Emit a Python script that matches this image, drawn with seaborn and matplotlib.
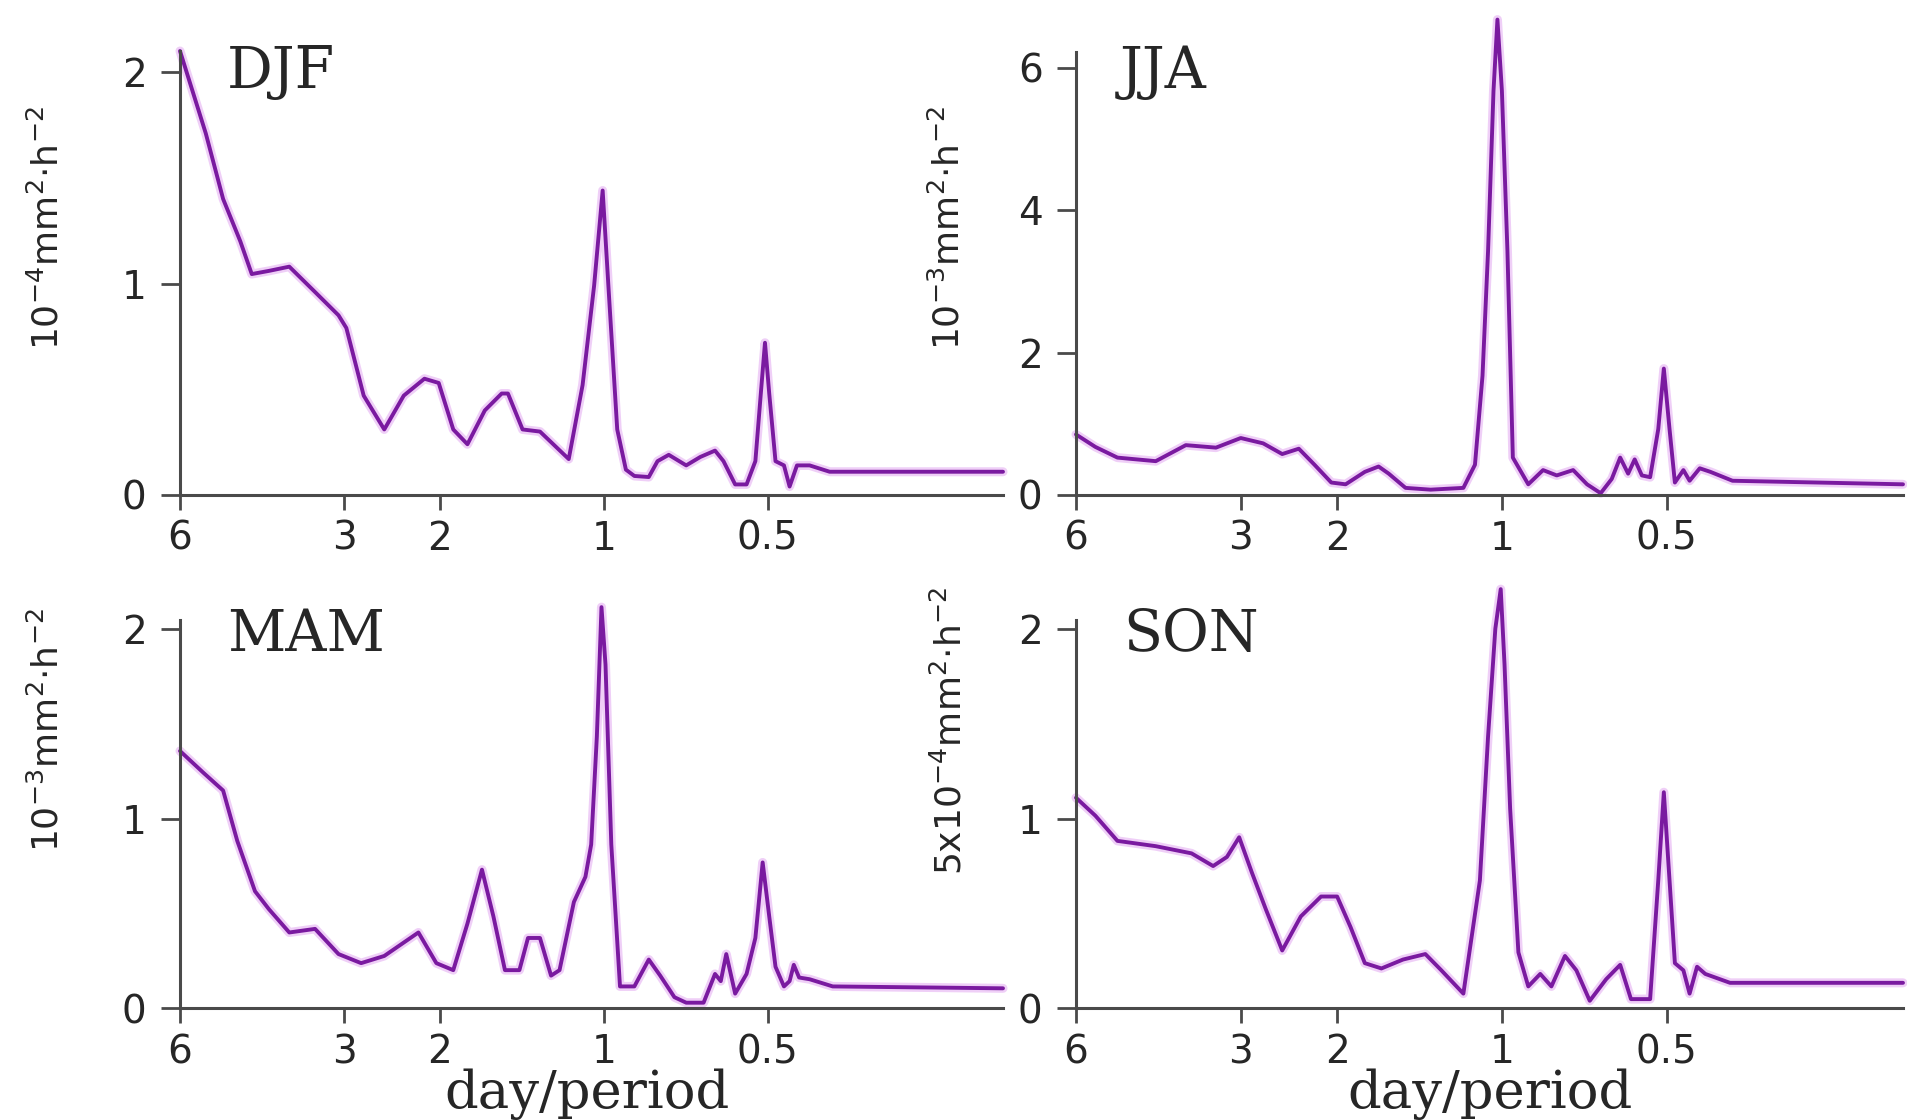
import matplotlib
matplotlib.use("Agg")
import matplotlib.pyplot as plt
import seaborn as sns
import pandas as pd
from matplotlib.ticker import FixedLocator, FixedFormatter, NullLocator

# ---------------- data (period in days, spectral power) ----------------
djf_period = [6.0, 5.38, 5.0, 4.65, 4.43, 4.12, 3.78, 3.39, 3.07, 2.97, 2.76, 2.53, 2.33,
              2.135, 2.01, 1.89, 1.78, 1.654, 1.54, 1.50, 1.41, 1.31, 1.25, 1.16, 1.094,
              1.042, 1.005, 0.981, 0.945, 0.911, 0.879, 0.827, 0.797, 0.760, 0.706, 0.665,
              0.625, 0.603, 0.574, 0.547, 0.527, 0.515, 0.506, 0.497, 0.484, 0.467, 0.456,
              0.442, 0.419, 0.385, 0.185]
djf_power = [2.10, 1.71, 1.40, 1.20, 1.045, 1.06, 1.08, 0.96, 0.85, 0.79, 0.47, 0.31, 0.47,
             0.55, 0.53, 0.31, 0.24, 0.40, 0.48, 0.48, 0.31, 0.30, 0.25, 0.17, 0.52,
             0.99, 1.44, 0.99, 0.31, 0.12, 0.09, 0.085, 0.16, 0.19, 0.14, 0.18,
             0.21, 0.16, 0.05, 0.05, 0.16, 0.48, 0.72, 0.48, 0.16, 0.14, 0.04,
             0.14, 0.14, 0.11, 0.11]

jja_period = [6.0, 5.53, 5.04, 4.29, 3.78, 3.33, 3.0, 2.73, 2.52, 2.35, 2.20, 2.05, 1.93,
              1.78, 1.68, 1.61, 1.50, 1.35, 1.176, 1.12, 1.085, 1.06, 1.036, 1.019, 1.0,
              0.977, 0.955, 0.895, 0.841, 0.794, 0.741, 0.699, 0.66, 0.63, 0.608, 0.588,
              0.572, 0.555, 0.536, 0.518, 0.506, 0.494, 0.483, 0.466, 0.454, 0.435, 0.416,
              0.379, 0.185]
jja_power = [0.85, 0.675, 0.525, 0.475, 0.70, 0.665, 0.80, 0.725, 0.575, 0.65, 0.425, 0.175, 0.15,
             0.325, 0.40, 0.30, 0.10, 0.075, 0.10, 0.425, 1.675, 3.425, 5.675, 6.675, 5.675,
             3.425, 0.525, 0.15, 0.35, 0.275, 0.35, 0.15, 0.025, 0.225, 0.525, 0.30,
             0.50, 0.275, 0.25, 0.925, 1.775, 0.925, 0.175, 0.35, 0.20, 0.375, 0.325,
             0.20, 0.15]

mam_period = [6.0, 5.44, 5.0, 4.71, 4.37, 4.12, 3.78, 3.39, 3.07, 2.79, 2.53, 2.19, 2.03,
              1.89, 1.78, 1.674, 1.595, 1.519, 1.429, 1.378, 1.31, 1.25, 1.206, 1.135, 1.081,
              1.055, 1.03, 1.01, 0.993, 0.969, 0.934, 0.879, 0.827, 0.788, 0.742, 0.706,
              0.656, 0.625, 0.610, 0.596, 0.574, 0.547, 0.527, 0.511, 0.497, 0.484, 0.467,
              0.456, 0.448, 0.438, 0.419, 0.380, 0.185]
mam_power = [1.358, 1.244, 1.149, 0.883, 0.617, 0.522, 0.399, 0.418, 0.285, 0.237, 0.275, 0.399, 0.237,
             0.20, 0.446, 0.731, 0.484, 0.20, 0.20, 0.37, 0.37, 0.171, 0.20, 0.56, 0.693,
             0.864, 1.434, 2.118, 1.814, 0.864, 0.114, 0.114, 0.256, 0.171, 0.057, 0.028,
             0.028, 0.18, 0.142, 0.285, 0.076, 0.18, 0.37, 0.769, 0.484, 0.218, 0.114,
             0.142, 0.228, 0.161, 0.152, 0.114, 0.104]

son_period = [6.0, 5.53, 5.04, 4.29, 3.69, 3.37, 3.18, 3.02, 2.86, 2.70, 2.52, 2.33, 2.14,
              2.0, 1.89, 1.78, 1.66, 1.516, 1.38, 1.29, 1.176, 1.097, 1.06, 1.028, 1.005,
              0.989, 0.966, 0.933, 0.895, 0.851, 0.812, 0.767, 0.731, 0.691, 0.645, 0.608,
              0.581, 0.536, 0.518, 0.506, 0.494, 0.483, 0.466, 0.454, 0.440, 0.425, 0.383,
              0.185]
son_power = [1.111, 1.016, 0.883, 0.855, 0.817, 0.750, 0.798, 0.902, 0.712, 0.522, 0.304, 0.484, 0.589,
             0.589, 0.427, 0.237, 0.209, 0.256, 0.285, 0.199, 0.076, 0.674, 1.434, 2.004, 2.213,
             1.814, 1.054, 0.294, 0.114, 0.18, 0.114, 0.275, 0.199, 0.038, 0.152, 0.228,
             0.047, 0.047, 0.674, 1.14, 0.674, 0.237, 0.199, 0.076, 0.218, 0.18, 0.133,
             0.133]

season_names = ["DJF", "JJA", "MAM", "SON"]
y_labels = [r"$10^{-4}$mm$^{2}$$\cdot$h$^{-2}$",
            r"$10^{-3}$mm$^{2}$$\cdot$h$^{-2}$",
            r"$10^{-3}$mm$^{2}$$\cdot$h$^{-2}$",
            r"5x$10^{-4}$mm$^{2}$$\cdot$h$^{-2}$"]
x_tick_vals = [6, 3, 2, 1, 0.5]
x_tick_labels = ["6", "3", "2", "1", "0.5"]
y_tick_sets = [[0, 1, 2], [0, 2, 4, 6], [0, 1, 2], [0, 1, 2]]
y_tick_label_sets = [["0", "1", "2"], ["0", "2", "4", "6"], ["0", "1", "2"], ["0", "1", "2"]]
x_label = "day/period"

# ---------------- style ----------------
sns.set_style("ticks")
plt.rcParams["font.family"] = ["DejaVu Sans"]
plt.rcParams["mathtext.fontset"] = "dejavusans"

fig = plt.figure(figsize=(19.07, 11.2), dpi=100)
W, H = 1907, 1120

panels = [
    ((180 / W, 1 - 495 / H, 823 / W, 444 / H), 2.10),
    ((1076 / W, 1 - 495 / H, 827 / W, 443 / H), 6.22),
    ((180 / W, 1 - 1008 / H, 823 / W, 388 / H), 2.05),
    ((1076 / W, 1 - 1008 / H, 827 / W, 388 / H), 2.05),
]
series = [(djf_period, djf_power), (jja_period, jja_power),
          (mam_period, mam_power), (son_period, son_power)]

line_color = "#7a1aa0"
spine_color = "#4a4a4a"
text_color = "#262626"

title_pos = [(227, 88), (1120, 88), (227, 651), (1123, 651)]
ylabel_pos = [(47, 228), (948, 228), (47, 730), (950, 731)]
xlabel_pos = [(587, 1094), (1490, 1094)]

for i, (rect, ytop) in enumerate(panels):
    ax = fig.add_axes(rect)
    per, pw = series[i]
    df = pd.DataFrame({"period": per, "power": pw})
    sns.lineplot(data=df, x="period", y="power", ax=ax, color="#c040e0",
                 linewidth=6.5, alpha=0.25, clip_on=False, estimator=None, sort=False)
    sns.lineplot(data=df, x="period", y="power", ax=ax, color=line_color,
                 linewidth=2.8, clip_on=False, estimator=None, sort=False)
    ax.set_xscale("log")
    ax.set_xlim(6, 0.185)
    ax.set_ylim(0, ytop)
    ax.xaxis.set_major_locator(FixedLocator(x_tick_vals))
    ax.xaxis.set_major_formatter(FixedFormatter(x_tick_labels))
    ax.xaxis.set_minor_locator(NullLocator())
    ax.set_yticks(y_tick_sets[i])
    ax.set_yticklabels(y_tick_label_sets[i])
    ax.set_xlabel("")
    ax.set_ylabel("")
    for s in ["top", "right"]:
        ax.spines[s].set_visible(False)
    for s in ["left", "bottom"]:
        ax.spines[s].set_color(spine_color)
        ax.spines[s].set_linewidth(2.2)
    ax.tick_params(axis="x", length=11, width=2, color=spine_color, pad=7,
                   labelsize=28, labelcolor=text_color)
    ax.tick_params(axis="y", length=14, width=2, color=spine_color, pad=10,
                   labelsize=28, labelcolor=text_color)
    ax.patch.set_alpha(0)

    tx, ty = title_pos[i]
    fig.text(tx / W, 1 - ty / H, season_names[i], family="DejaVu Serif",
             fontsize=41, color=text_color, ha="left", va="baseline")
    lx, ly = ylabel_pos[i]
    fig.text(lx / W, 1 - ly / H, y_labels[i], rotation=90, fontsize=26,
             color=text_color, ha="center", va="center")

for (xx, yy) in xlabel_pos:
    fig.text(xx / W, 1 - yy / H, x_label, family="DejaVu Serif", fontsize=38,
             color=text_color, ha="center", va="center")

fig.savefig("out.png", dpi=100)
